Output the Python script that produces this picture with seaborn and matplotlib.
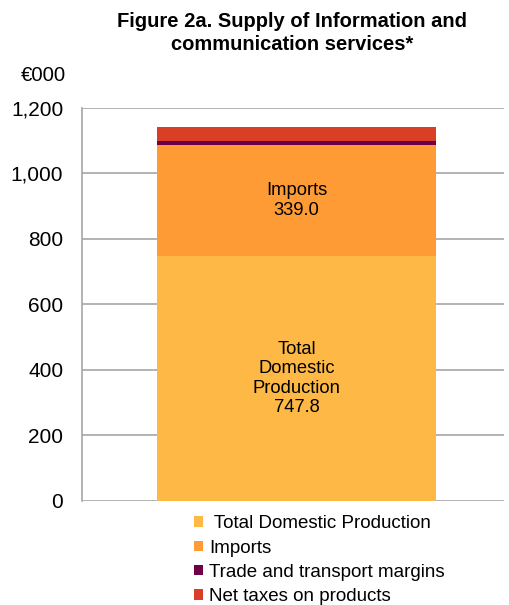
import pandas as pd
import seaborn as sns
import matplotlib.pyplot as plt
from matplotlib.patches import Patch

# Data (EUR 000)
components = ['Total Domestic Production', 'Imports', 'Trade and transport margins', 'Net taxes on products']
values = [747.8, 339.0, 12.0, 43.0]
colours = ['#FDB845', '#FF9B35', '#6E0048', '#D83F26']
y_ticks = [0, 200, 400, 600, 800, 1000, 1200]

sns.set_theme(style='white')
plt.rcParams['font.family'] = ['Liberation Sans', 'DejaVu Sans']
plt.rcParams['text.color'] = 'black'
plt.rcParams['ytick.color'] = 'black'

df = pd.DataFrame({'component': components, 'value': values})
df['top'] = df['value'].cumsum()
df['bottom'] = df['top'] - df['value']
df['group'] = 'all'

fig = plt.figure(figsize=(5.09, 6.05), dpi=100)
ax = fig.add_axes([0.161, 0.172, 0.83, 0.6495])

# stacked bar: draw cumulative totals from tallest to shortest
for i in reversed(range(len(df))):
    sns.barplot(x=[df.loc[i, 'group']], y=[df.loc[i, 'top']], color=colours[i],
                width=0.66, saturation=1, linewidth=0, ax=ax, zorder=3)

ax.set_ylim(0, 1200)
ax.set_yticks(y_ticks)
ax.set_yticklabels([f'{t:,}' for t in y_ticks], fontsize=15)
ax.set_xlim(-0.508, 0.492)
ax.set_xticks([])
ax.set_xlabel('')
ax.set_ylabel('')
ax.grid(axis='y', color='#A6A6A6', linewidth=1.2, zorder=0)
for s in ['top', 'right', 'bottom']:
    ax.spines[s].set_visible(False)
ax.spines['left'].set_color('#A6A6A6')
ax.spines['left'].set_linewidth(1.2)
ax.tick_params(axis='y', left=False, length=0, pad=13.5)

# labels inside the segments
ax.text(0, (df.loc[1, 'bottom'] + df.loc[1, 'top']) / 2, f"Imports\n{values[1]:.1f}",
        ha='center', va='center', fontsize=13.2, zorder=4)
ax.text(0, df.loc[0, 'top'] / 2, f"Total\nDomestic\nProduction\n{values[0]:.1f}",
        ha='center', va='center', fontsize=13.2, zorder=4)

fig.text(0.574, 0.98, 'Figure 2a. Supply of Information and\ncommunication services*',
         ha='center', va='top', fontsize=14.5, fontweight='bold', linespacing=1.28)
fig.text(0.04, 0.876, '€000', ha='left', va='center', fontsize=14.6)

handles = [Patch(facecolor=c, edgecolor='none') for c in colours]
labels = [' Total Domestic Production', 'Imports', 'Trade and transport margins', 'Net taxes on products']
fig.legend(handles, labels, loc='upper left', bbox_to_anchor=(0.381, 0.148), frameon=False,
           fontsize=13.5, handlelength=0.5, handleheight=0.5, handletextpad=0.3,
           labelspacing=0.38, borderpad=0, borderaxespad=0)

fig.savefig('out.png', dpi=100)
